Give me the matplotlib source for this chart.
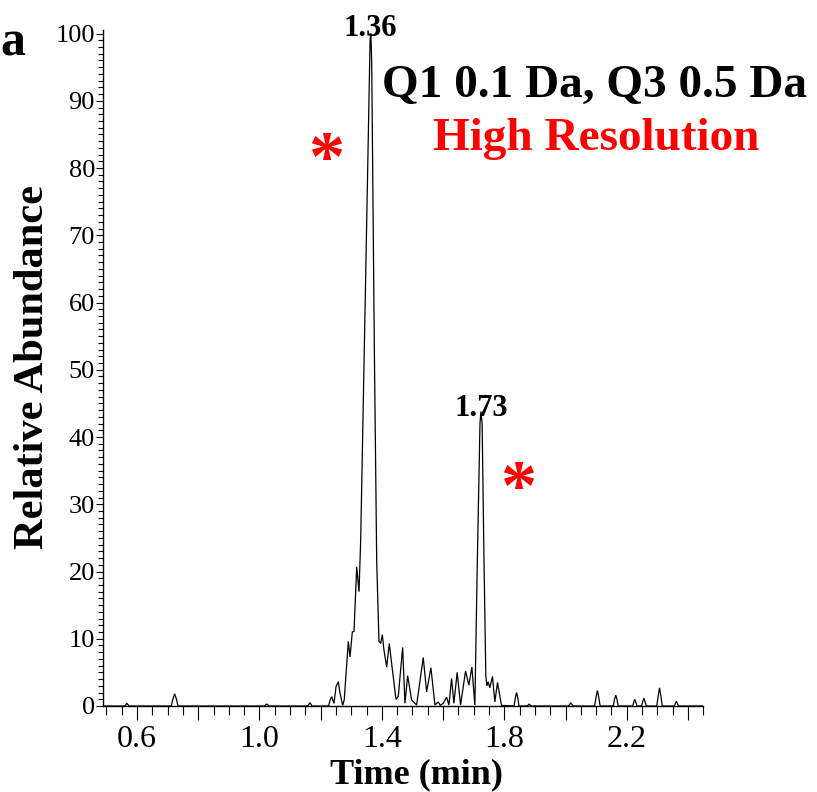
import matplotlib
matplotlib.use("Agg")
import matplotlib.pyplot as plt
from matplotlib.ticker import MultipleLocator, FixedLocator, FixedFormatter

plt.rcParams['font.family'] = ['Liberation Serif', 'DejaVu Serif']

# Chromatogram trace: retention time (min) and relative abundance (%)
time_min = [
    0.490, 0.560, 0.567, 0.574, 0.712, 0.717, 0.723, 0.729, 0.734,
    1.017, 1.024, 1.031, 1.158, 1.165, 1.172,
    1.226, 1.231, 1.236, 1.2437, 1.2503, 1.2578, 1.2633, 1.272, 1.277,
    1.2904, 1.2959, 1.3034, 1.309, 1.3178, 1.3253, 1.3308, 1.343, 1.3525,
    1.3615, 1.3640, 1.3667, 1.3752, 1.3831, 1.3905, 1.396, 1.4014, 1.4069,
    1.4157, 1.4242, 1.432, 1.446, 1.4535, 1.4679, 1.4754, 1.4842, 1.4972,
    1.5135, 1.5351, 1.5462, 1.5602, 1.5733, 1.584, 1.591, 1.6004, 1.6114,
    1.619, 1.6277, 1.6353, 1.646, 1.657, 1.6734, 1.6842, 1.694, 1.7038,
    1.7120, 1.7205, 1.7235, 1.7275, 1.7335, 1.7395, 1.7430, 1.7472, 1.7526,
    1.7613, 1.769, 1.7777, 1.7907,
    1.832, 1.836, 1.840, 1.844, 1.848,
    1.875, 1.881, 1.887,
    2.010, 2.017, 2.024,
    2.095, 2.100, 2.104, 2.108, 2.113,
    2.156, 2.160, 2.164, 2.168, 2.172,
    2.219, 2.226, 2.234, 2.248, 2.256, 2.264,
    2.298, 2.303, 2.307, 2.311, 2.316,
    2.355, 2.362, 2.369, 2.450,
]
abundance = [
    0.0, 0.0, 0.4, 0.0, 0.0, 1.0, 1.8, 1.0, 0.0,
    0.0, 0.3, 0.0, 0.0, 0.5, 0.0,
    0.0, 0.9, 1.4, 0.4, 2.9, 3.6, 1.9, 0.1, 0.9,
    9.6, 7.3, 11.0, 11.1, 20.7, 17.0, 24.7, 54.0, 77.0,
    99.0, 100.0, 96.0, 54.0, 21.5, 9.6, 9.3, 10.6, 8.3,
    5.8, 9.3, 6.3, 1.0, 1.4, 8.7, 0.4, 4.5, 0.9,
    0.15, 7.2, 2.1, 5.7, 0.15, 0.6, 0.1, 0.4, 1.3,
    0.15, 4.1, 0.4, 5.0, 0.15, 5.2, 3.1, 5.8, 0.15,
    22.0, 42.0, 43.8, 42.0, 22.0, 4.6, 3.0, 3.6, 2.7,
    4.4, 0.6, 3.5, 0.1,
    0.0, 1.2, 2.0, 1.2, 0.0,
    0.0, 0.3, 0.0,
    0.0, 0.5, 0.0,
    0.0, 1.4, 2.3, 1.4, 0.0,
    0.0, 1.0, 1.6, 1.0, 0.0,
    0.0, 1.0, 0.0, 0.0, 1.2, 0.0,
    0.0, 1.6, 2.7, 1.6, 0.0,
    0.0, 0.7, 0.0, 0.0,
]

# Labelled apexes
peak_rt = [1.3625, 1.7243]
peak_abundance = [100.0, 43.4]
peak_labels = ['1.36', '1.73']

# Asterisk markers beside the two peaks
star_rt = [1.221, 1.848]
star_abundance = [80.8, 31.9]

x_major = [0.6, 0.8, 1.0, 1.2, 1.4, 1.6, 1.8, 2.0, 2.2, 2.4]
x_major_labels = ['0.6', '', '1.0', '', '1.4', '', '1.8', '', '2.2', '']
y_major = [0, 10, 20, 30, 40, 50, 60, 70, 80, 90, 100]

W, H = 817, 792
fig = plt.figure(figsize=(W / 100, H / 100), dpi=100)
ax = fig.add_axes([103.3 / W, 86 / H, 600 / W, 676.5 / H])

ax.plot(time_min, abundance, color='black', lw=0.9, solid_joinstyle='miter')

ax.set_xlim(0.49, 2.45)
ax.set_ylim(0, 100.6)

for side in ('top', 'right'):
    ax.spines[side].set_visible(False)
for side in ('left', 'bottom'):
    ax.spines[side].set_linewidth(1.0)

ax.xaxis.set_major_locator(FixedLocator(x_major))
ax.xaxis.set_major_formatter(FixedFormatter(x_major_labels))
ax.xaxis.set_minor_locator(MultipleLocator(0.05))
ax.yaxis.set_major_locator(FixedLocator(y_major))
ax.yaxis.set_minor_locator(MultipleLocator(1))

ax.tick_params(axis='x', which='major', direction='out', length=10, width=0.8,
               labelsize=23, pad=4)
ax.tick_params(axis='x', which='minor', direction='out', length=6.5, width=0.8)
ax.tick_params(axis='y', which='major', direction='out', length=5, width=0.8,
               labelsize=19, pad=1)
ax.tick_params(axis='y', which='minor', direction='out', length=3.5, width=0.8)

for t, v, s in zip(peak_rt, peak_abundance, peak_labels):
    ax.annotate(s, (t, v), xytext=(0, -1.5), textcoords='offset points',
                ha='center', va='baseline', fontsize=22, fontweight='bold')

for t, v in zip(star_rt, star_abundance):
    ax.text(t, v, '*', ha='center', va='center', fontsize=52,
            fontweight='bold', color='#ff0000')

fig.text(595 / W, 1 - 96.7 / H, 'Q1 0.1 Da, Q3 0.5 Da', ha='center',
         va='baseline', fontsize=34, fontweight='bold')
fig.text(596 / W, 1 - 150 / H, 'High Resolution', ha='center',
         va='baseline', fontsize=34, fontweight='bold', color='#ff0000')
fig.text(0 / W, 1 - 55 / H, 'a', ha='left', va='baseline', fontsize=36,
         fontweight='bold')
fig.text(33 / W, 1 - 367 / H, 'Relative Abundance', rotation=90,
         ha='center', va='center', fontsize=30.5, fontweight='bold')
fig.text(416 / W, 1 - 783 / H, 'Time (min)', ha='center', va='baseline',
         fontsize=26, fontweight='bold')

fig.savefig('out.png', dpi=100)
